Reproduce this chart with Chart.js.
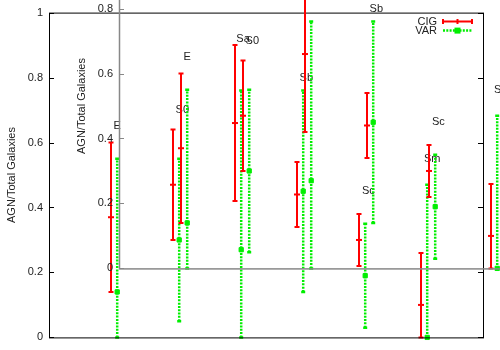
<!DOCTYPE html>
<html>
<head>
<meta charset="utf-8">
<script src="https://cdn.jsdelivr.net/npm/chart.js@4"></script>
<style>
html, body { margin: 0; padding: 0; background: #fff; overflow: hidden; width: 500px; height: 350px; position: relative; }
canvas { position: absolute; }
#outer { left: 0; top: 0; }
#inner { left: 70px; top: -69px; }
</style>
</head>
<body>
<canvas id="outer" width="500" height="350"></canvas>
<canvas id="inner" width="500" height="350"></canvas>
<script>
// galaxy types and AGN fractions (mid, low, high) for both samples
const types = ['E', 'S0', 'Sa', 'Sb', 'Sc', 'Sm'];
const cigMid  = [0.37, 0.47, 0.66, 0.44, 0.30, 0.10];
const cigLow  = [0.14, 0.30, 0.42, 0.34, 0.22, 0.00];
const cigHigh = [0.60, 0.64, 0.90, 0.54, 0.38, 0.26];
const varMid  = [0.14, 0.30, 0.27, 0.45, 0.19, 0.00];
const varLow  = [0.00, 0.05, 0.00, 0.14, 0.03, 0.00];
const varHigh = [0.55, 0.55, 0.76, 0.76, 0.35, 0.47];
// where the type names sit (x, y in data units)
const labelX = [1.10, 2.15, 3.13, 4.15, 5.15, 6.18];
const labelY = [0.65, 0.70, 0.92, 0.80, 0.45, 0.55];
const yTicks = [0, 0.2, 0.4, 0.6, 0.8, 1];

const RED = '#ff0000';
const GREEN = '#00ee00';
const FONT = '"Liberation Sans", Arial, sans-serif';
const varShift = 0.1;

function drawErr(ctx, px, top, bot, color, lw, dash, cap) {
  ctx.strokeStyle = color;
  ctx.lineWidth = lw;
  ctx.setLineDash(dash);
  ctx.beginPath();
  ctx.moveTo(px, bot);
  ctx.lineTo(px, top);
  ctx.stroke();
  ctx.setLineDash([]);
  ctx.beginPath();
  ctx.moveTo(px - cap, top); ctx.lineTo(px + cap, top);
  ctx.moveTo(px - cap, bot); ctx.lineTo(px + cap, bot);
  ctx.stroke();
}

const errorBars = {
  id: 'errorBars',
  beforeDatasetsDraw(chart) {
    const {ctx, scales: {x, y}} = chart;
    ctx.save();
    types.forEach((t, i) => {
      drawErr(ctx, x.getPixelForValue(i + 1), y.getPixelForValue(cigHigh[i]), y.getPixelForValue(cigLow[i]), RED, 2, [], 2.5);
      drawErr(ctx, x.getPixelForValue(i + 1 + varShift), y.getPixelForValue(varHigh[i]), y.getPixelForValue(varLow[i]), GREEN, 2.5, [2, 1.3], 2);
    });
    ctx.restore();
  },
  afterDatasetsDraw(chart) {
    const {ctx, scales: {x, y}} = chart;
    ctx.save();
    ctx.fillStyle = '#222';
    ctx.font = '11px ' + FONT;
    ctx.textAlign = 'center';
    ctx.textBaseline = 'middle';
    types.forEach((t, i) => {
      ctx.fillText(t, x.getPixelForValue(labelX[i]), y.getPixelForValue(labelY[i]));
    });
    ctx.restore();
  }
};

const frame = {
  id: 'frame',
  afterDraw(chart, args, opts) {
    const {ctx, chartArea: a, scales: {y}} = chart;
    ctx.save();
    ctx.strokeStyle = opts.color;
    ctx.lineWidth = opts.width;
    ctx.strokeRect(a.left + 0.5, a.top + 0.5, a.right - a.left, a.bottom - a.top);
    ctx.lineWidth = 1;
    ctx.beginPath();
    yTicks.forEach(v => {
      const py = Math.round(y.getPixelForValue(v)) + 0.5;
      ctx.moveTo(a.left, py); ctx.lineTo(a.left + 5, py);
      ctx.moveTo(a.right, py); ctx.lineTo(a.right - 5, py);
    });
    ctx.stroke();

    // key, gnuplot style: text then sample
    const x1 = a.right - 40, x2 = a.right - 11;
    ctx.font = '11px ' + FONT;
    ctx.fillStyle = '#222';
    ctx.textAlign = 'right';
    ctx.textBaseline = 'middle';
    ctx.fillText('CIG', x1 - 6, a.top + 9);
    ctx.fillText('VAR', x1 - 6, a.top + 18);
    ctx.strokeStyle = RED;
    ctx.lineWidth = 2;
    ctx.beginPath();
    ctx.moveTo(x1, a.top + 9); ctx.lineTo(x2, a.top + 9);
    [x1, (x1 + x2) / 2, x2].forEach(px => { ctx.moveTo(px, a.top + 6.5); ctx.lineTo(px, a.top + 11.5); });
    ctx.stroke();
    ctx.strokeStyle = GREEN;
    ctx.lineWidth = 2.5;
    ctx.setLineDash([2, 1.3]);
    ctx.beginPath();
    ctx.moveTo(x1, a.top + 18); ctx.lineTo(x2, a.top + 18);
    ctx.stroke();
    ctx.setLineDash([]);
    ctx.fillStyle = GREEN;
    ctx.fillRect((x1 + x2) / 2 - 3, a.top + 15, 6, 6);
    ctx.restore();
  }
};

function makeChart(canvas, frameColor, frameWidth) {
  return new Chart(canvas, {
    type: 'scatter',
    data: {
      datasets: [
        {
          label: 'CIG',
          data: types.map((t, i) => ({x: i + 1, y: cigMid[i]})),
          pointStyle: 'line',
          pointRadius: 3,
          borderColor: RED,
          backgroundColor: RED,
          borderWidth: 2,
          clip: false
        },
        {
          label: 'VAR',
          data: types.map((t, i) => ({x: i + 1 + varShift, y: varMid[i]})),
          pointStyle: 'rect',
          pointRadius: 3,
          borderColor: GREEN,
          backgroundColor: GREEN,
          borderWidth: 1,
          clip: false
        }
      ]
    },
    options: {
      responsive: false,
      animation: false,
      layout: {padding: {top: 12, right: 17, bottom: 12, left: 0}},
      plugins: {
        legend: {display: false},
        tooltip: {enabled: false},
        frame: {color: frameColor, width: frameWidth}
      },
      scales: {
        x: {type: 'linear', min: 0, max: 7, display: false},
        y: {
          min: 0,
          max: 1,
          ticks: {
            stepSize: 0.2, padding: 6, color: '#222', font: {family: FONT, size: 11},
            callback: v => String(Number(v.toFixed(1)))
          },
          grid: {display: false, drawTicks: false},
          border: {display: false},
          title: {display: true, text: 'AGN/Total Galaxies', color: '#222', padding: {top: 5, bottom: 0}, font: {family: FONT, size: 11}},
          afterFit(s) { s.width = 49; }
        }
      }
    },
    plugins: [errorBars, frame]
  });
}

makeChart(document.getElementById('outer'), '#000', 1);
makeChart(document.getElementById('inner'), '#888', 1.5);
</script>
</body>
</html>
